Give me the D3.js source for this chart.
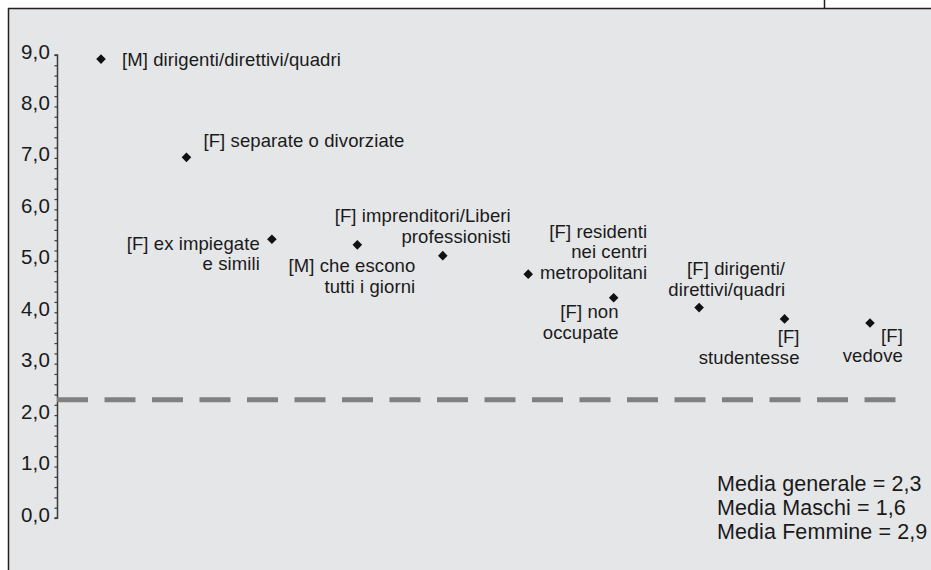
<!DOCTYPE html>
<html>
<head>
<meta charset="utf-8">
<script src="https://cdn.jsdelivr.net/npm/d3@7/dist/d3.min.js"></script>
<style>
  html, body { margin: 0; padding: 0; background: #ffffff; }
  svg { display: block; }
  text { font-family: "Liberation Sans", Arial, Helvetica, sans-serif; fill: #1a1a1a; }
</style>
</head>
<body>
<svg id="chart" width="931" height="570"></svg>
<script>
// ---- data ----
const categories = [
  "[M] dirigenti/direttivi/quadri",
  "[F] separate o divorziate",
  "[F] ex impiegate\ne simili",
  "[M] che escono\ntutti i giorni",
  "[F] imprenditori/Liberi\nprofessionisti",
  "[F] residenti\nnei centri\nmetropolitani",
  "[F] non\noccupate",
  "[F] dirigenti/\ndirettivi/quadri",
  "[F]\nstudentesse",
  "[F]\nvedove"
];
const values = [8.92, 7.01, 5.42, 5.31, 5.10, 4.74, 4.28, 4.09, 3.87, 3.79];
const meanGeneral = 2.3;
const yTickValues = [0, 1, 2, 3, 4, 5, 6, 7, 8, 9];
const legendLines = ["Media generale = 2,3", "Media Maschi = 1,6", "Media Femmine = 2,9"];

// ---- layout (label placement relative to each marker) ----
const labelPlacement = [
  {dx: 21, dy: 0, anchor: "start"},
  {dx: 17, dy: -17, anchor: "start"},
  {dx: -12, dy: 4, anchor: "end"},
  {dx: 58, dy: 21, anchor: "end"},
  {dx: 68, dy: -40, anchor: "end"},
  {dx: 119, dy: -43, anchor: "end"},
  {dx: 5, dy: 14, anchor: "end"},
  {dx: 86, dy: -39, anchor: "end"},
  {dx: 15, dy: 18, anchor: "end"},
  {dx: 33, dy: 12, anchor: "end"}
];

const svg = d3.select("#chart");

// panel
svg.append("rect").attr("x", 8).attr("y", 8).attr("width", 923).attr("height", 562)
  .attr("fill", "#e5e6e8");
svg.append("line").attr("x1", 8).attr("x2", 931).attr("y1", 8.5).attr("y2", 8.5)
  .attr("stroke", "#231f20").attr("stroke-width", 1.5);
svg.append("line").attr("x1", 8.5).attr("x2", 8.5).attr("y1", 8).attr("y2", 570)
  .attr("stroke", "#231f20").attr("stroke-width", 1.5);
svg.append("line").attr("x1", 824.5).attr("x2", 824.5).attr("y1", 0).attr("y2", 8)
  .attr("stroke", "#231f20").attr("stroke-width", 1.5);

// scales
const x = d3.scaleLinear().domain([1, categories.length]).range([101, 870]);
const y = d3.scaleLinear().domain([0, 9]).range([518, 55]);

// axis
const minorTicks = d3.range(0, 45 + 1).map(i => i / 5);
const axis = d3.axisLeft(y)
  .tickValues(minorTicks)
  .tickSize(3)
  .tickPadding(4.5)
  .tickFormat(d => yTickValues.some(t => Math.abs(t - d) < 1e-9) ? d3.format(".1f")(d).replace(".", ",") : "");
const gAxis = svg.append("g").attr("transform", "translate(57.5,0)").call(axis);
gAxis.select(".domain").attr("stroke", "#3a3a3a").attr("stroke-width", 1.5).attr("d", `M-3,${y(9)}H0V${y(0)}H-3`);
gAxis.selectAll(".tick line").attr("stroke", "#3a3a3a").attr("stroke-width", 1.2);
gAxis.selectAll(".tick text")
  .attr("font-size", 20.5).attr("letter-spacing", 0.2)
  .attr("dy", "0.15em").attr("fill", "#1a1a1a")
  .attr("font-family", "'Liberation Sans', Arial, Helvetica, sans-serif");

// mean line
svg.append("line")
  .attr("x1", 57).attr("x2", 898)
  .attr("y1", y(meanGeneral)).attr("y2", y(meanGeneral))
  .attr("stroke", "#808080").attr("stroke-width", 5)
  .attr("stroke-dasharray", "31,16.5");

// markers
const sym = d3.symbol().type(d3.symbolSquare).size(46);
svg.append("g").selectAll("path").data(values).join("path")
  .attr("d", sym)
  .attr("transform", (d, i) => `translate(${x(i + 1)},${y(d)}) rotate(45)`)
  .attr("fill", "#111");

// labels
const fs = 18.5, lh = 20.5;
const gl = svg.append("g");
categories.forEach((c, i) => {
  const p = labelPlacement[i];
  const px = x(i + 1) + p.dx, py = y(values[i]) + p.dy;
  const t = gl.append("text")
    .attr("x", px).attr("y", py + 6.5)
    .attr("text-anchor", p.anchor)
    .attr("font-size", fs)
    .attr("letter-spacing", 0.1);
  c.split("\n").forEach((line, k) => {
    t.append("tspan").attr("x", px).attr("y", py + 6.5 + k * lh).text(line);
  });
});

// legend
svg.append("g").selectAll("text").data(legendLines).join("text")
  .attr("x", 717).attr("y", (d, i) => 491 + i * 23.8)
  .attr("font-size", 21.5).attr("letter-spacing", 0.1)
  .text(d => d);
</script>
</body>
</html>
